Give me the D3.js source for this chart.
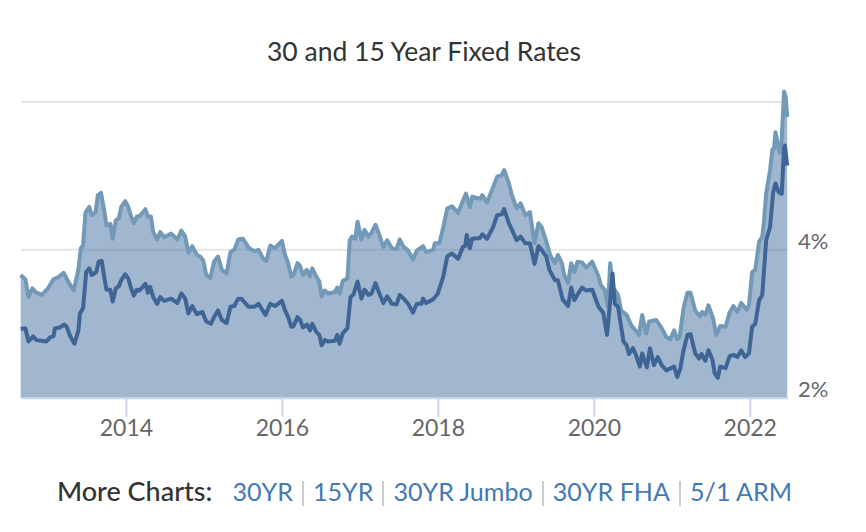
<!DOCTYPE html>
<html>
<head>
<meta charset="utf-8">
<script src="https://cdn.jsdelivr.net/npm/d3@7"></script>
<style>
  html, body { margin: 0; padding: 0; background: #fff; }
  body { width: 866px; height: 532px; overflow: hidden; position: relative; font-family: Lato, sans-serif; }
  #more { position: absolute; left: 0; width: 849px; top: 474px; text-align: center; font-size: 25.1px; line-height: 34px; white-space: nowrap; color: #333; }
  #more .lead { font-size: 27px; font-weight: 500; margin-right: 20px; }
  #more a { color: #4479b5; text-decoration: none; }
  #more .sep { display: inline-block; width: 2px; height: 25px; background: #ccc; margin: 0 9px; vertical-align: -5px; }
</style>
</head>
<body>
<svg id="chart" width="866" height="532"></svg>
<div id="more"></div>
<script>
// [year, rate] pairs
var rate30 = [[2012.65,3.66],[2012.71,3.60],[2012.75,3.36],[2012.80,3.48],[2012.85,3.42],[2012.92,3.39],[2013.00,3.48],[2013.07,3.60],[2013.13,3.63],[2013.20,3.69],[2013.26,3.57],[2013.33,3.45],[2013.39,3.73],[2013.42,4.02],[2013.45,4.06],[2013.48,4.50],[2013.53,4.58],[2013.56,4.47],[2013.61,4.51],[2013.64,4.74],[2013.68,4.77],[2013.72,4.54],[2013.75,4.33],[2013.80,4.35],[2013.83,4.15],[2013.87,4.40],[2013.91,4.43],[2013.94,4.58],[2013.99,4.66],
  [2014.03,4.58],[2014.06,4.47],[2014.10,4.36],[2014.14,4.45],[2014.17,4.45],[2014.25,4.55],[2014.28,4.45],[2014.32,4.45],[2014.35,4.24],[2014.40,4.14],[2014.44,4.24],[2014.49,4.17],[2014.58,4.22],[2014.66,4.14],[2014.71,4.26],[2014.76,4.18],[2014.80,3.96],[2014.85,4.05],[2014.91,3.93],[2014.95,3.91],[2014.99,3.86],
  [2015.03,3.66],[2015.08,3.62],[2015.13,3.84],[2015.18,3.91],[2015.23,3.73],[2015.29,3.68],[2015.34,3.97],[2015.39,4.00],[2015.44,4.14],[2015.50,4.15],[2015.58,4.02],[2015.65,3.98],[2015.70,4.00],[2015.76,3.88],[2015.80,3.85],[2015.85,4.06],[2015.91,4.02],
  [2016.00,4.12],[2016.04,3.93],[2016.08,3.82],[2016.12,3.64],[2016.15,3.66],[2016.20,3.82],[2016.23,3.79],[2016.27,3.66],[2016.32,3.73],[2016.36,3.64],[2016.39,3.75],[2016.44,3.64],[2016.48,3.57],[2016.51,3.37],[2016.55,3.45],[2016.59,3.41],[2016.68,3.43],[2016.71,3.49],[2016.74,3.41],[2016.78,3.58],[2016.84,3.61],[2016.87,4.13],[2016.90,4.18],[2016.94,4.15],[2016.97,4.38],
  [2017.02,4.14],[2017.06,4.27],[2017.11,4.18],[2017.15,4.23],[2017.20,4.34],[2017.25,4.20],[2017.30,4.04],[2017.35,4.13],[2017.41,4.02],[2017.47,4.01],[2017.51,4.14],[2017.56,4.04],[2017.62,3.99],[2017.68,3.87],[2017.73,3.99],[2017.81,4.05],[2017.85,3.97],[2017.94,4.00],[2017.96,4.09],
  [2018.02,4.09],[2018.07,4.31],[2018.12,4.56],[2018.18,4.59],[2018.26,4.50],[2018.32,4.66],[2018.36,4.76],[2018.41,4.58],[2018.44,4.72],[2018.54,4.69],[2018.57,4.74],[2018.63,4.64],[2018.71,4.85],[2018.76,4.99],[2018.82,5.01],[2018.85,5.08],[2018.91,4.90],[2018.95,4.74],
  [2019.01,4.56],[2019.06,4.63],[2019.12,4.47],[2019.18,4.51],[2019.24,4.09],[2019.29,4.36],[2019.33,4.31],[2019.39,4.11],[2019.44,3.93],[2019.50,3.82],[2019.54,3.93],[2019.59,3.82],[2019.62,3.66],[2019.67,3.55],[2019.71,3.82],[2019.75,3.70],[2019.79,3.84],[2019.85,3.83],[2019.90,3.76],[2019.98,3.84],
  [2020.06,3.64],[2020.09,3.52],[2020.14,3.46],[2020.18,3.23],[2020.21,3.82],[2020.24,3.50],[2020.31,3.39],[2020.35,3.18],[2020.42,3.12],[2020.48,2.98],[2020.58,2.85],[2020.62,3.12],[2020.67,2.87],[2020.71,3.03],[2020.80,3.05],[2020.87,2.94],[2020.93,2.82],[2020.98,2.79],
  [2021.03,2.91],[2021.07,2.79],[2021.10,2.82],[2021.15,3.21],[2021.20,3.42],[2021.24,3.42],[2021.30,3.18],[2021.36,3.10],[2021.39,3.16],[2021.43,3.12],[2021.47,3.25],[2021.53,3.07],[2021.57,2.85],[2021.62,2.97],[2021.69,2.96],[2021.74,3.15],[2021.79,3.24],[2021.84,3.16],[2021.89,3.28],[2021.96,3.19],[2021.99,3.25],
  [2022.03,3.70],[2022.07,3.73],[2022.12,4.11],[2022.16,4.18],[2022.18,4.36],[2022.21,4.76],[2022.26,5.08],[2022.29,5.36],[2022.31,5.37],[2022.33,5.59],[2022.38,5.32],[2022.40,5.31],[2022.44,6.14],[2022.46,6.07],[2022.48,5.80]];

var rate15 = [[2012.65,2.93],[2012.71,2.94],[2012.75,2.76],[2012.81,2.83],[2012.85,2.78],[2012.98,2.76],[2013.03,2.82],[2013.07,2.83],[2013.09,2.94],[2013.15,2.95],[2013.21,2.99],[2013.24,2.96],[2013.29,2.82],[2013.34,2.73],[2013.39,2.91],[2013.41,3.14],[2013.45,3.21],[2013.49,3.70],[2013.53,3.75],[2013.56,3.66],[2013.62,3.70],[2013.65,3.84],[2013.69,3.85],[2013.72,3.64],[2013.75,3.46],[2013.80,3.46],[2013.83,3.30],[2013.87,3.48],[2013.91,3.51],[2013.94,3.59],[2013.99,3.67],
  [2014.03,3.61],[2014.06,3.50],[2014.10,3.38],[2014.14,3.46],[2014.17,3.45],[2014.25,3.54],[2014.28,3.42],[2014.31,3.50],[2014.35,3.36],[2014.40,3.27],[2014.44,3.36],[2014.49,3.31],[2014.58,3.34],[2014.66,3.28],[2014.71,3.41],[2014.76,3.34],[2014.80,3.14],[2014.85,3.24],[2014.91,3.13],[2014.98,3.16],
  [2015.03,3.03],[2015.09,3.00],[2015.13,3.09],[2015.18,3.18],[2015.23,3.05],[2015.29,3.01],[2015.34,3.23],[2015.39,3.24],[2015.44,3.34],[2015.48,3.34],[2015.57,3.23],[2015.65,3.23],[2015.70,3.27],[2015.79,3.12],[2015.85,3.27],[2015.91,3.24],
  [2016.00,3.31],[2016.04,3.18],[2016.08,3.09],[2016.12,2.96],[2016.15,2.97],[2016.20,3.09],[2016.23,3.06],[2016.27,2.95],[2016.32,2.99],[2016.36,2.91],[2016.39,3.00],[2016.44,2.89],[2016.48,2.85],[2016.51,2.71],[2016.55,2.78],[2016.59,2.76],[2016.68,2.77],[2016.71,2.85],[2016.74,2.73],[2016.78,2.87],[2016.84,2.94],[2016.88,3.36],[2016.92,3.40],[2016.97,3.57],
  [2017.02,3.34],[2017.06,3.46],[2017.11,3.39],[2017.15,3.41],[2017.20,3.55],[2017.25,3.41],[2017.30,3.28],[2017.35,3.37],[2017.41,3.27],[2017.47,3.26],[2017.51,3.39],[2017.56,3.34],[2017.62,3.27],[2017.68,3.15],[2017.73,3.27],[2017.79,3.27],[2017.81,3.34],[2017.85,3.28],[2017.94,3.33],
  [2018.00,3.41],[2018.07,3.64],[2018.12,3.91],[2018.18,3.95],[2018.26,3.88],[2018.32,4.04],[2018.35,4.05],[2018.37,4.20],[2018.41,4.02],[2018.44,4.15],[2018.54,4.16],[2018.57,4.21],[2018.63,4.15],[2018.71,4.31],[2018.76,4.47],[2018.82,4.48],[2018.85,4.55],[2018.91,4.36],[2018.95,4.27],
  [2019.01,4.13],[2019.06,4.18],[2019.12,4.09],[2019.18,4.09],[2019.24,3.81],[2019.29,4.05],[2019.33,4.00],[2019.39,3.91],[2019.43,3.73],[2019.50,3.59],[2019.54,3.59],[2019.60,3.33],[2019.67,3.24],[2019.71,3.49],[2019.75,3.32],[2019.80,3.41],[2019.85,3.49],[2019.90,3.45],[2019.98,3.46],
  [2020.06,3.23],[2020.12,3.15],[2020.17,2.85],[2020.21,3.32],[2020.24,3.68],[2020.27,3.27],[2020.31,3.23],[2020.38,2.76],[2020.42,2.71],[2020.45,2.59],[2020.50,2.67],[2020.54,2.58],[2020.59,2.42],[2020.62,2.60],[2020.68,2.41],[2020.72,2.67],[2020.77,2.44],[2020.82,2.55],[2020.87,2.44],[2020.93,2.37],
  [2021.03,2.42],[2021.07,2.28],[2021.11,2.40],[2021.15,2.64],[2021.20,2.85],[2021.24,2.86],[2021.30,2.60],[2021.35,2.53],[2021.38,2.59],[2021.43,2.50],[2021.47,2.64],[2021.52,2.52],[2021.55,2.33],[2021.59,2.27],[2021.62,2.42],[2021.69,2.40],[2021.74,2.56],[2021.79,2.58],[2021.84,2.55],[2021.89,2.64],[2021.94,2.55],[2021.99,2.60],
  [2022.03,2.96],[2022.07,3.00],[2022.12,3.32],[2022.16,3.39],[2022.21,4.13],[2022.26,4.31],[2022.30,4.78],[2022.33,4.90],[2022.37,4.78],[2022.41,4.76],[2022.44,5.39],[2022.45,5.41],[2022.48,5.14]];

var xTicks = [2014, 2016, 2018, 2020, 2022];
var yTicks = [2, 4, 6];
var yLabels = [2, 4];
var moreLinks = ["30YR", "15YR", "30YR Jumbo", "30YR FHA", "5/1 ARM"];

var svg = d3.select("#chart");

// Scales: one year is 78px, one percentage point is 74px
var x = d3.scaleLinear().domain([2012.654, 2022.49]).range([21, 788]);
var y = d3.scaleLinear().domain([2, 6]).range([397.7, 102]);

// Title
svg.append("text")
  .attr("x", 424)
  .attr("y", 61)
  .attr("text-anchor", "middle")
  .attr("font-size", 26.5)
  .attr("fill", "#333")
  .text("30 and 15 Year Fixed Rates");

// Gridlines go under the area, they just show through it
svg.selectAll("line.grid")
  .data(yTicks.slice(1))
  .enter()
  .append("line")
  .attr("class", "grid")
  .attr("x1", 21)
  .attr("x2", 788)
  .attr("y1", d => y(d))
  .attr("y2", d => y(d))
  .attr("stroke", "#e6e6e6")
  .attr("stroke-width", 2);

var area = d3.area()
  .x(d => x(d[0]))
  .y0(y(2))
  .y1(d => y(d[1]));

var line = d3.line()
  .x(d => x(d[0]))
  .y(d => y(d[1]));

svg.append("path")
  .attr("d", area(rate30))
  .attr("fill", "#43709f")
  .attr("fill-opacity", 0.5);

// x axis
var xAxis = svg.append("g")
  .attr("transform", "translate(0," + y(2) + ")")
  .call(d3.axisBottom(x).tickValues(xTicks).tickFormat(d3.format("d")).tickSize(19).tickSizeOuter(0));
xAxis.select(".domain").attr("stroke", "#ccd6eb").attr("stroke-width", 2);
xAxis.selectAll(".tick line").attr("stroke", "#ccd6eb").attr("stroke-width", 2);
xAxis.selectAll(".tick text")
  .attr("y", 22)
  .attr("font-family", "Lato, sans-serif")
  .attr("font-size", 23)
  .attr("fill", "#666");

// Lines
svg.append("path")
  .attr("d", line(rate30))
  .attr("fill", "none")
  .attr("stroke", "#7399b8")
  .attr("stroke-width", 4)
  .attr("stroke-linejoin", "round");

svg.append("path")
  .attr("d", line(rate15))
  .attr("fill", "none")
  .attr("stroke", "#3f6596")
  .attr("stroke-width", 4)
  .attr("stroke-linejoin", "round");

// y labels sit on the right, above their gridline
svg.selectAll("text.ylabel")
  .data(yLabels)
  .enter()
  .append("text")
  .attr("class", "ylabel")
  .attr("x", 798)
  .attr("y", d => y(d) - 1)
  .attr("font-size", 22)
  .attr("fill", "#666")
  .text(d => d + "%");

// More Charts footer
var more = d3.select("#more");
more.append("span").attr("class", "lead").text("More Charts:");
moreLinks.forEach((name, i) => {
  if (i > 0) more.append("span").attr("class", "sep");
  more.append("a").attr("href", "#").text(name);
});
</script>
</body>
</html>
